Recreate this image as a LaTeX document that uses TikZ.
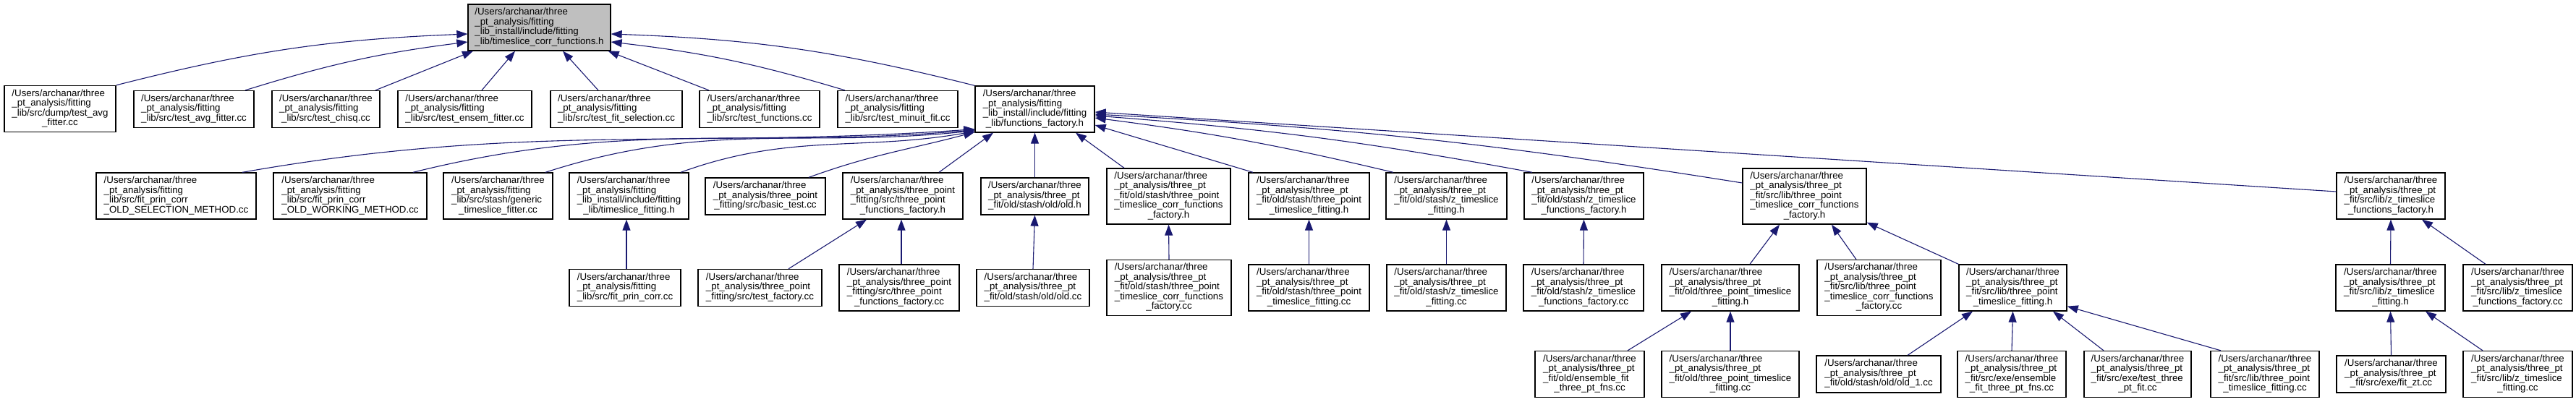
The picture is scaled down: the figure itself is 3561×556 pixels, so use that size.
\documentclass[tikz,border=0pt]{standalone}
\usepackage{fontspec}
\setmainfont{Liberation Sans}
\usetikzlibrary{arrows.meta}
\definecolor{edgeblue}{RGB}{25,25,112}
\definecolor{rootgray}{RGB}{191,191,191}
\newcommand{\flbl}[2]{\begin{tabular}{@{}l@{}}#1\\\multicolumn{1}{@{}c@{}}{#2}\end{tabular}}
\newcommand{\pfit}{/Users/archanar/three\\\_pt\_analysis/fitting}
\newcommand{\ppt}{/Users/archanar/three\\\_pt\_analysis/three\_pt}
\newcommand{\ppoint}{/Users/archanar/three\\\_pt\_analysis/three\_point}

\begin{document}
\begin{tikzpicture}[x=1pt, y=1pt,
  file/.style={draw=black, line width=1.3pt, fill=white, inner sep=0pt,
    font=\fontsize{13.3}{13.1}\selectfont},
  f3/.style={file, minimum height=51pt},
  f4/.style={file, minimum height=64pt},
  f5/.style={file, minimum height=77pt},
  dep/.style={edgeblue, line width=1.1pt, -{Triangle[length=15pt, width=11pt]}}]
  \useasboundingbox (0,0) rectangle (3561,-556);
  % root header
  \node[f4, fill=rootgray, minimum width=197pt] (root) at (745.5,-38)
    {\flbl{\pfit\\\_lib\_install/include/fitting}{\_lib/timeslice\_corr\_functions.h}};
  % direct includers
  \node[f4, minimum width=154pt] (dump) at (83,-150.5) {\flbl{\pfit\\\_lib/src/dump/test\_avg}{\_fitter.cc}};
  \node[f3, minimum width=166pt] (avg) at (268,-151) {\flbl{\pfit}{\_lib/src/test\_avg\_fitter.cc}};
  \node[f3, minimum width=149pt] (chisq) at (450.5,-151) {\flbl{\pfit}{\_lib/src/test\_chisq.cc}};
  \node[f3, minimum width=185pt] (ensem) at (642.5,-151) {\flbl{\pfit}{\_lib/src/test\_ensem\_fitter.cc}};
  \node[f3, minimum width=182pt] (fitsel) at (852,-151) {\flbl{\pfit}{\_lib/src/test\_fit\_selection.cc}};
  \node[f3, minimum width=166pt] (funcs) at (1050,-151) {\flbl{\pfit}{\_lib/src/test\_functions.cc}};
  \node[f3, minimum width=166pt] (minuit) at (1241,-151) {\flbl{\pfit}{\_lib/src/test\_minuit\_fit.cc}};
  \node[f4, minimum width=165pt] (factory) at (1430.5,-151)
    {\flbl{\pfit\\\_lib\_install/include/fitting}{\_lib/functions\_factory.h}};
  % includers of functions_factory.h
  \node[f4, minimum width=221pt] (oldsel) at (243.5,-271) {\flbl{\pfit\\\_lib/src/fit\_prin\_corr}{\_OLD\_SELECTION\_METHOD.cc}};
  \node[f4, minimum width=212pt] (oldwork) at (484,-271) {\flbl{\pfit\\\_lib/src/fit\_prin\_corr}{\_OLD\_WORKING\_METHOD.cc}};
  \node[f4, minimum width=151pt] (generic) at (688.5,-271) {\flbl{\pfit\\\_lib/src/stash/generic}{\_timeslice\_fitter.cc}};
  \node[f4, minimum width=165pt] (tsfit) at (869.5,-271) {\flbl{\pfit\\\_lib\_install/include/fitting}{\_lib/timeslice\_fitting.h}};
  \node[f3, minimum width=166pt] (basic) at (1058,-271.5) {\flbl{\ppoint}{\_fitting/src/basic\_test.cc}};
  \node[f4, minimum width=166pt] (tpff) at (1248,-271) {\flbl{\ppoint\\\_fitting/src/three\_point}{\_functions\_factory.h}};
  \node[f3, minimum width=149pt] (oldh) at (1430.5,-271.5) {\flbl{\ppt}{\_fit/old/stash/old/old.h}};
  \node[f5, minimum width=171pt] (stcorr) at (1615.5,-271.5) {\flbl{\ppt\\\_fit/old/stash/three\_point\\\_timeslice\_corr\_functions}{\_factory.h}};
  \node[f4, minimum width=167pt] (sttpf) at (1809.5,-271) {\flbl{\ppt\\\_fit/old/stash/three\_point}{\_timeslice\_fitting.h}};
  \node[f4, minimum width=167pt] (stzfit) at (1999.5,-271) {\flbl{\ppt\\\_fit/old/stash/z\_timeslice}{\_fitting.h}};
  \node[f4, minimum width=165pt] (stzff) at (2189.5,-271) {\flbl{\ppt\\\_fit/old/stash/z\_timeslice}{\_functions\_factory.h}};
  \node[f5, minimum width=171pt] (corrff) at (2494.5,-271.5) {\flbl{\ppt\\\_fit/src/lib/three\_point\\\_timeslice\_corr\_functions}{\_factory.h}};
  \node[f4, minimum width=150pt] (zff) at (3305,-271) {\flbl{\ppt\\\_fit/src/lib/z\_timeslice}{\_functions\_factory.h}};
  % fourth rank
  \node[f3, minimum width=154pt] (fpc) at (864,-398) {\flbl{\pfit}{\_lib/src/fit\_prin\_corr.cc}};
  \node[f3, minimum width=171pt] (testfac) at (1050.5,-398) {\flbl{\ppoint}{\_fitting/src/test\_factory.cc}};
  \node[f4, minimum width=166pt] (tpffcc) at (1243,-398) {\flbl{\ppoint\\\_fitting/src/three\_point}{\_functions\_factory.cc}};
  \node[f3, minimum width=156pt] (oldcc) at (1428,-398) {\flbl{\ppt}{\_fit/old/stash/old/old.cc}};
  \node[f5, minimum width=172pt] (stcorrcc) at (1616,-398) {\flbl{\ppt\\\_fit/old/stash/three\_point\\\_timeslice\_corr\_functions}{\_factory.cc}};
  \node[f4, minimum width=167pt] (sttpfcc) at (1809.5,-398) {\flbl{\ppt\\\_fit/old/stash/three\_point}{\_timeslice\_fitting.cc}};
  \node[f4, minimum width=165pt] (stzfitcc) at (1999.5,-398) {\flbl{\ppt\\\_fit/old/stash/z\_timeslice}{\_fitting.cc}};
  \node[f4, minimum width=166pt] (stzffcc) at (2189,-398) {\flbl{\ppt\\\_fit/old/stash/z\_timeslice}{\_functions\_factory.cc}};
  \node[f4, minimum width=190pt] (oldtpf) at (2392,-398) {\flbl{\ppt\\\_fit/old/three\_point\_timeslice}{\_fitting.h}};
  \node[f5, minimum width=171pt] (corrffcc) at (2597.5,-398) {\flbl{\ppt\\\_fit/src/lib/three\_point\\\_timeslice\_corr\_functions}{\_factory.cc}};
  \node[f4, minimum width=149pt] (tpf) at (2782.5,-398) {\flbl{\ppt\\\_fit/src/lib/three\_point}{\_timeslice\_fitting.h}};
  \node[f4, minimum width=151pt] (zfit) at (3304.5,-398) {\flbl{\ppt\\\_fit/src/lib/z\_timeslice}{\_fitting.h}};
  \node[f4, minimum width=151pt] (zffcc) at (3480.5,-398) {\flbl{\ppt\\\_fit/src/lib/z\_timeslice}{\_functions\_factory.cc}};
  % bottom rank
  \node[f4, minimum width=151pt] (oldens) at (2197.5,-517.5) {\flbl{\ppt\\\_fit/old/ensemble\_fit}{\_three\_pt\_fns.cc}};
  \node[f4, minimum width=190pt] (oldtpfcc) at (2392,-517.5) {\flbl{\ppt\\\_fit/old/three\_point\_timeslice}{\_fitting.cc}};
  \node[f3, minimum width=172pt] (old1) at (2597,-517.5) {\flbl{\ppt}{\_fit/old/stash/old/old\_1.cc}};
  \node[f4, minimum width=150pt] (exeens) at (2781,-517.5) {\flbl{\ppt\\\_fit/src/exe/ensemble}{\_fit\_three\_pt\_fns.cc}};
  \node[f4, minimum width=148pt] (test3) at (2955,-517.5) {\flbl{\ppt\\\_fit/src/exe/test\_three}{\_pt\_fit.cc}};
  \node[f4, minimum width=150pt] (tpfcc) at (3131,-517.5) {\flbl{\ppt\\\_fit/src/lib/three\_point}{\_timeslice\_fitting.cc}};
  \node[f3, minimum width=151pt] (fitzt) at (3305.5,-517.5) {\flbl{\ppt}{\_fit/src/exe/fit\_zt.cc}};
  \node[f4, minimum width=151pt] (zfitcc) at (3480.5,-517.5) {\flbl{\ppt\\\_fit/src/lib/z\_timeslice}{\_fitting.cc}};

  % edges into the root
  \draw[dep] (dump.north east) to[bend left=6] ([yshift=-9pt]root.west);
  \draw[dep] ([xshift=71pt]avg.north) to[bend left=5] ([yshift=-20pt]root.west);
  \draw[dep] ([xshift=68.5pt]chisq.north) -- ([xshift=-91.5pt]root.south);
  \draw[dep] ([xshift=23.5pt]ensem.north) -- ([xshift=-33.5pt]root.south);
  \draw[dep] ([xshift=-25pt]fitsel.north) -- ([xshift=32.5pt]root.south);
  \draw[dep] ([xshift=-70pt]funcs.north) -- ([xshift=-4pt]root.south east);
  \draw[dep] ([xshift=-73pt]minuit.north) to[bend right=5] ([yshift=-20pt]root.east);
  \draw[dep] (factory.north west) to[bend right=6] ([yshift=-9pt]root.east);
  % edges into functions_factory.h
  \draw[dep] ([xshift=91.5pt]oldsel.north) to[out=10, in=184] ([yshift=5pt]factory.south west);
  \draw[dep] ([xshift=87pt]oldwork.north) to[out=14, in=185] ([yshift=4pt]factory.south west);
  \draw[dep] ([xshift=65.5pt]generic.north) to[out=18, in=186] ([yshift=3pt]factory.south west);
  \draw[dep] ([xshift=71.5pt]tsfit.north) to[out=20, in=190] ([yshift=2pt]factory.south west);
  \draw[dep] ([xshift=60pt]basic.north) to[out=20, in=195] ([yshift=1pt]factory.south west);
  \draw[dep] ([xshift=50pt]tpff.north) -- ([xshift=-57.5pt]factory.south);
  \draw[dep] (oldh.north) -- (factory.south);
  \draw[dep] ([xshift=-61.5pt]stcorr.north) -- ([xshift=56.5pt]factory.south);
  \draw[dep] ([xshift=-77.5pt]sttpf.north) -- ([yshift=-22pt]factory.east);
  \draw[dep] ([xshift=-73.5pt]stzfit.north) to[bend right=3] ([yshift=-12pt]factory.east);
  \draw[dep] ([xshift=-71.5pt]stzff.north) to[bend right=3] ([yshift=-9pt]factory.east);
  \draw[dep] ([yshift=18.5pt]corrff.west) to[bend right=3] ([yshift=-7pt]factory.east);
  \draw[dep] ([yshift=6pt]zff.west) -- ([yshift=-4pt]factory.east);
  % third rank to fourth
  \draw[dep] ([xshift=2pt]fpc.north) -- ([xshift=-3.5pt]tsfit.south);
  \draw[dep] ([xshift=39.5pt]testfac.north) -- ([xshift=-50pt]tpff.south);
  \draw[dep] ([xshift=3pt]tpffcc.north) -- ([xshift=-2pt]tpff.south);
  \draw[dep] (oldcc.north) -- (oldh.south);
  \draw[dep] (stcorrcc.north) -- (stcorr.south);
  \draw[dep] (sttpfcc.north) -- (sttpf.south);
  \draw[dep] (stzfitcc.north) -- (stzfit.south);
  \draw[dep] (stzffcc.north) -- (stzff.south);
  \draw[dep] ([xshift=27pt]oldtpf.north) -- ([xshift=-34.5pt]corrff.south);
  \draw[dep] ([xshift=-31.5pt]corrffcc.north) -- ([xshift=37.5pt]corrff.south);
  \draw[dep] (tpf.north west) -- ([yshift=3pt]corrff.south east);
  \draw[dep] (zfit.north) -- (zff.south);
  \draw[dep] ([xshift=-44.5pt]zffcc.north) -- ([xshift=43pt]zff.south);
  % bottom rank
  \draw[dep] ([xshift=52.5pt]oldens.north) -- ([xshift=-54pt]oldtpf.south);
  \draw[dep] (oldtpfcc.north) -- (oldtpf.south);
  \draw[dep] ([xshift=40pt]old1.north) -- ([xshift=-55.5pt]tpf.south);
  \draw[dep] (exeens.north) -- (tpf.south);
  \draw[dep] ([xshift=-47pt]test3.north) -- ([xshift=55.5pt]tpf.south);
  \draw[dep] ([xshift=-61pt]tpfcc.north) -- ([yshift=7pt]tpf.south east);
  \draw[dep] (fitzt.north) -- (zfit.south);
  \draw[dep] ([xshift=-48.5pt]zfitcc.north) -- ([xshift=48.5pt]zfit.south);
\end{tikzpicture}
\end{document}
